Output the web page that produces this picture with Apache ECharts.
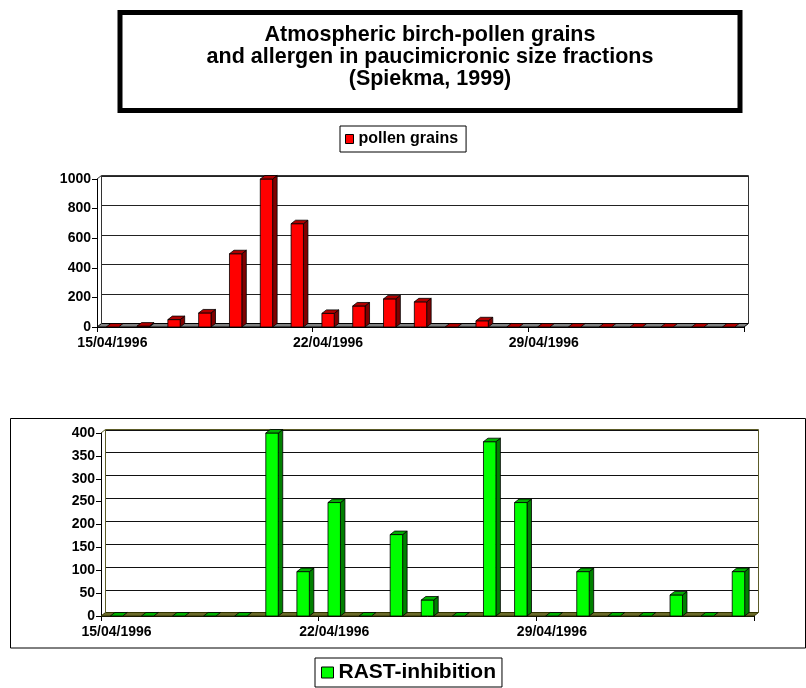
<!DOCTYPE html>
<html>
<head>
<meta charset="utf-8">
<script src="https://cdn.jsdelivr.net/npm/echarts@6/dist/echarts.min.js"></script>
<style>
html,body{margin:0;padding:0;background:#fff;}
#chart{width:806px;height:688px;}
</style>
</head>
<body>
<div id="chart"></div>
<script>
// ---- data ----
const dates = ['15/04/1996','16/04/1996','17/04/1996','18/04/1996','19/04/1996','20/04/1996','21/04/1996',
  '22/04/1996','23/04/1996','24/04/1996','25/04/1996','26/04/1996','27/04/1996','28/04/1996',
  '29/04/1996','30/04/1996','01/05/1996','02/05/1996','03/05/1996','04/05/1996','05/05/1996'];
const pollenGrains = [0, 6, 50, 95, 495, 1000, 698, 92, 142, 190, 170, 0, 42, 0, 0, 0, 0, 0, 0, 0, 0];
const rastInhibition = [0, 0, 0, 0, 0, 400, 97, 248, 0, 178, 35, 0, 381, 248, 0, 97, 0, 0, 46, 0, 97];
const pollenTicks = [0, 200, 400, 600, 800, 1000];
const rastTicks = [0, 50, 100, 150, 200, 250, 300, 350, 400];
const titleLines = ['Atmospheric birch-pollen grains', 'and allergen in paucimicronic size fractions', '(Spiekma, 1999)'];

const FONT = "'Liberation Sans', Arial, sans-serif";
const DX = 4.5, DY = -3.5;

function frameRenderer(ticks, cfg) {
  return function (params, api) {
    const cs = params.coordSys;
    const x0 = cs.x, y0 = cs.y, w = cs.width, h = cs.height;
    const ch = [];
    ch.push({type: 'polygon', shape: {points: [[x0, y0 + h], [x0 + DX, y0 + h + DY], [x0 + w + DX, y0 + h + DY], [x0 + w, y0 + h]]},
      style: {fill: cfg.floor, stroke: cfg.floorStroke, lineWidth: 1}});
    ticks.forEach(function (v) {
      if (v === ticks[0]) return;
      const py = Math.round(api.coord([0, v])[1] + DY) + 0.5;
      ch.push({type: 'line', shape: {x1: x0 + DX, y1: py, x2: x0 + w + DX, y2: py}, style: {stroke: cfg.grid, lineWidth: 1}});
    });
    ch.push({type: 'polyline', shape: {points: [[x0 + DX, y0 + h + DY], [x0 + DX, y0 + DY], [x0 + w + DX, y0 + DY], [x0 + w + DX, y0 + h + DY]]},
      style: {stroke: cfg.wall, fill: null, lineWidth: 1}});
    ch.push({type: 'line', shape: {x1: x0, y1: y0, x2: x0 + DX, y2: y0 + DY}, style: {stroke: cfg.wall, lineWidth: 1}});
    return {type: 'group', children: ch};
  };
}

function barRenderer(cfg) {
  return function (params, api) {
    const idx = api.value(0), val = api.value(1);
    const top = api.coord([idx, val]);
    const base = api.coord([idx, 0]);
    const bw = api.size([1, 0])[0] * 0.4;
    const xl = top[0] - bw / 2, xr = top[0] + bw / 2;
    const yt = top[1], yb = base[1];
    const ch = [];
    if (yb - yt > 0.5) {
      ch.push({type: 'polygon', shape: {points: [[xr, yt], [xr + DX, yt + DY], [xr + DX, yb + DY], [xr, yb]]},
        style: {fill: cfg.side, stroke: '#000', lineWidth: 0.8}});
      ch.push({type: 'rect', shape: {x: xl, y: yt, width: bw, height: yb - yt},
        style: {fill: cfg.front, stroke: '#000', lineWidth: 0.8}});
    }
    ch.push({type: 'polygon', shape: {points: [[xl, yt], [xl + DX, yt + DY], [xr + DX, yt + DY], [xr, yt]]},
      style: {fill: cfg.top, stroke: '#000', lineWidth: 0.8}});
    return {type: 'group', children: ch};
  };
}

const axisLabelStyle = {color: '#000', fontFamily: FONT, fontWeight: 'bold', fontSize: 14};

function xAxisCfg(gridIndex) {
  return {
    type: 'category', gridIndex: gridIndex, data: dates, boundaryGap: true,
    axisLine: {show: true, lineStyle: {color: '#000', width: 1}},
    axisTick: {show: true, interval: 6, length: 5, lineStyle: {color: '#000'}},
    axisLabel: Object.assign({interval: 6, margin: 9}, axisLabelStyle),
    splitLine: {show: false}
  };
}
function yAxisCfg(gridIndex, ticks) {
  return {
    type: 'value', gridIndex: gridIndex, min: ticks[0], max: ticks[ticks.length - 1], interval: ticks[1] - ticks[0],
    axisLine: {show: true, lineStyle: {color: '#000', width: 1}},
    axisTick: {show: true, length: 5, lineStyle: {color: '#000'}},
    axisLabel: Object.assign({margin: 6, formatter: function (v) { return String(v); }}, axisLabelStyle),
    splitLine: {show: false}
  };
}

const chart = echarts.init(document.getElementById('chart'), null, {renderer: 'canvas'});
chart.setOption({
  backgroundColor: '#fff',
  animation: false,
  graphic: [
    {type: 'rect', shape: {x: 120, y: 12.5, width: 620, height: 98}, style: {fill: '#fff', stroke: '#000', lineWidth: 5}, z: 0},
    {type: 'text', x: 430, y: 57.5, style: {text: titleLines.join('\n'), fill: '#000', font: 'bold 21.5px ' + FONT,
      textAlign: 'center', textVerticalAlign: 'middle', lineHeight: 22}, z: 1},
    {type: 'rect', shape: {x: 10.5, y: 418.5, width: 795, height: 229.5}, style: {fill: null, stroke: '#000', lineWidth: 1}, z: 0}
  ],
  legend: [
    {
      left: 340, top: 126, orient: 'horizontal', selectedMode: false,
      padding: [5, 8, 5, 5], itemWidth: 8, itemHeight: 9,
      borderColor: '#000', borderWidth: 1, backgroundColor: '#fff',
      textStyle: {color: '#000', fontFamily: FONT, fontWeight: 'bold', fontSize: 16},
      data: [{name: 'pollen grains', icon: 'rect', itemStyle: {color: '#FF0000', borderColor: '#000', borderWidth: 1}}]
    },
    {
      left: 315, top: 658, orient: 'horizontal', selectedMode: false,
      padding: [4, 6, 4, 6], itemWidth: 12, itemHeight: 11,
      borderColor: '#000', borderWidth: 1, backgroundColor: '#fff',
      textStyle: {color: '#000', fontFamily: FONT, fontWeight: 'bold', fontSize: 21},
      data: [{name: 'RAST-inhibition', icon: 'rect', itemStyle: {color: '#00FF00', borderColor: '#000', borderWidth: 1}}]
    }
  ],
  grid: [
    {left: 97, top: 179, width: 647, height: 148},
    {left: 101, top: 433, width: 653, height: 183}
  ],
  xAxis: [xAxisCfg(0), xAxisCfg(1)],
  yAxis: [yAxisCfg(0, pollenTicks), yAxisCfg(1, rastTicks)],
  series: [
    {type: 'custom', name: 'frameTop', xAxisIndex: 0, yAxisIndex: 0, z: 1, silent: true,
      renderItem: frameRenderer(pollenTicks, {floor: '#808080', floorStroke: '#000', grid: '#222', wall: '#333'}),
      data: [[0, 0]], encode: {x: 0, y: 1}},
    {type: 'custom', name: 'pollen grains', xAxisIndex: 0, yAxisIndex: 0, z: 2,
      itemStyle: {color: '#FF0000'},
      renderItem: barRenderer({front: '#FF0000', side: '#800000', top: '#B00000'}),
      data: pollenGrains.map(function (v, i) { return [i, v]; }), encode: {x: 0, y: 1}},
    {type: 'custom', name: 'frameBottom', xAxisIndex: 1, yAxisIndex: 1, z: 1, silent: true,
      renderItem: frameRenderer(rastTicks, {floor: '#6b6b2a', floorStroke: '#333300', grid: '#111', wall: '#5c5c28'}),
      data: [[0, 0]], encode: {x: 0, y: 1}},
    {type: 'custom', name: 'RAST-inhibition', xAxisIndex: 1, yAxisIndex: 1, z: 2,
      itemStyle: {color: '#00FF00'},
      renderItem: barRenderer({front: '#00FF00', side: '#008000', top: '#00B000'}),
      data: rastInhibition.map(function (v, i) { return [i, v]; }), encode: {x: 0, y: 1}}
  ]
});
</script>
</body>
</html>
